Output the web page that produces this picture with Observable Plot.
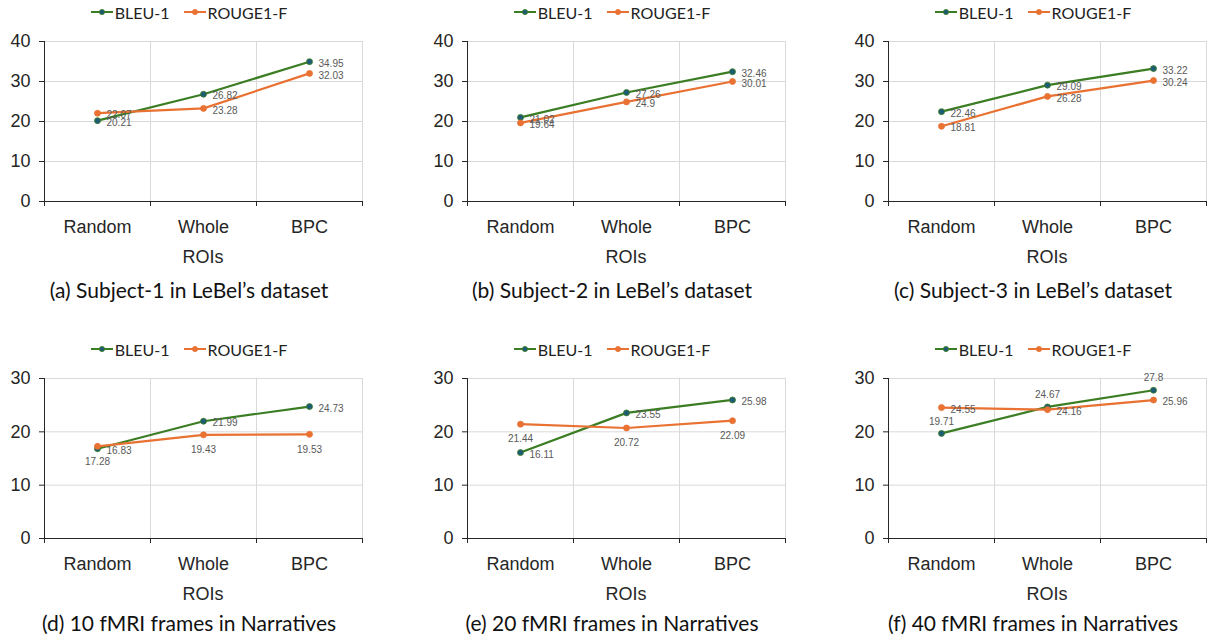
<!DOCTYPE html>
<html>
<head>
<meta charset="utf-8">
<script src="https://cdn.jsdelivr.net/npm/d3@7"></script>
<script src="https://cdn.jsdelivr.net/npm/@observablehq/plot@0.6"></script>
<style>
  html, body { margin: 0; padding: 0; background: #fff; }
  body { width: 1210px; height: 641px; position: relative; overflow: hidden; }
  .panel { position: absolute; width: 400px; height: 320px; }
  .panel svg { position: absolute; left: 0; top: 25px; overflow: visible; }
  .legend { position: absolute; left: 0; width: 378px; top: 0; height: 24px; display: flex; justify-content: center; align-items: center; gap: 14px; font-family: Lato, "Open Sans", sans-serif; font-size: 16px; color: #222; }
  .legend .item { display: flex; align-items: center; gap: 2px; }
  .axlabel { position: absolute; left: 44px; width: 318px; top: 246px; height: 22px; line-height: 22px; text-align: center; font-family: "Liberation Sans", Arial, sans-serif; font-size: 18px; color: #262626; }
  .caption { position: absolute; left: 0; width: 378px; height: 26px; line-height: 26px; text-align: center; font-family: Lato, "Open Sans", sans-serif; font-size: 21px; color: #111; white-space: nowrap; }
</style>
</head>
<body>
<script>
// ---- data ----
const rois = ["Random", "Whole", "BPC"];
const series = ["BLEU-1", "ROUGE1-F"];
const captions = [
  "(a) Subject-1 in LeBel’s dataset",
  "(b) Subject-2 in LeBel’s dataset",
  "(c) Subject-3 in LeBel’s dataset",
  "(d) 10 fMRI frames in Narratives",
  "(e) 20 fMRI frames in Narratives",
  "(f) 40 fMRI frames in Narratives"
];
const bleu1 = [
  [20.21, 26.82, 34.95],
  [21.02, 27.26, 32.46],
  [22.46, 29.09, 33.22],
  [16.83, 21.99, 24.73],
  [16.11, 23.55, 25.98],
  [19.71, 24.67, 27.8]
];
const rouge1F = [
  [22.07, 23.28, 32.03],
  [19.64, 24.9, 30.01],
  [18.81, 26.28, 30.24],
  [17.28, 19.43, 19.53],
  [21.44, 20.72, 22.09],
  [24.55, 24.16, 25.96]
];
const yMax = [40, 40, 40, 30, 30, 30];
// data label placement: r = right, b = below, t = above
const bleuLabelAt = [["r","r","r"],["r","r","r"],["r","r","r"],["r","r","r"],["r","r","r"],["t","t","t"]];
const rougeLabelAt = [["r","r","r"],["r","r","r"],["r","r","r"],["b","b","b"],["b","b","b"],["r","r","r"]];

// ---- style ----
const lineColor = {"BLEU-1": "#3b7d23", "ROUGE1-F": "#e97132"};
const dotColor = {"BLEU-1": "#1d5c74", "ROUGE1-F": "#e97132"};
const colLeft = [0, 423, 844];
const rowTop = [0, 337];
const captionTop = [277, 273];

function legendItem(name) {
  const it = document.createElement("div");
  it.className = "item";
  it.innerHTML = `<svg width="22" height="8" style="position:static"><line x1="0" x2="22" y1="4" y2="4" stroke="${lineColor[name]}" stroke-width="2"/><circle cx="11" cy="4" r="2.6" fill="${dotColor[name]}" stroke="${lineColor[name]}" stroke-width="0.8"/></svg><span>${name}</span>`;
  return it;
}

captions.forEach((cap, p) => {
  const col = p % 3, row = Math.floor(p / 3);
  const panel = document.createElement("div");
  panel.className = "panel";
  panel.style.left = colLeft[col] + "px";
  panel.style.top = rowTop[row] + "px";

  const legend = document.createElement("div");
  legend.className = "legend";
  series.forEach(s => legend.appendChild(legendItem(s)));
  panel.appendChild(legend);

  const rows = [];
  rois.forEach((r, i) => {
    rows.push({s: series[0], i, roi: r, v: bleu1[p][i], at: bleuLabelAt[p][i]});
    rows.push({s: series[1], i, roi: r, v: rouge1F[p][i], at: rougeLabelAt[p][i]});
  });
  const ticksY = d3.range(0, yMax[p] + 1, 10);
  const xPos = d => d.i + 0.5;

  const marks = [
    Plot.ruleY(ticksY.slice(1), {stroke: "#d9d9d9", strokeWidth: 1}),
    Plot.ruleX(d3.range(1, rois.length + 1), {stroke: "#d9d9d9", strokeWidth: 1}),
    Plot.ruleX([0], {stroke: "#262626", strokeWidth: 1}),
    Plot.ruleY([0], {stroke: "#262626", strokeWidth: 1}),
    Plot.axisY({ticks: ticksY, tickSize: 5, tickPadding: 9, label: null, fontSize: 18}),
    Plot.axisX({ticks: d3.range(0, rois.length + 1), tickSize: 5, tickFormat: () => "", label: null}),
    Plot.axisX({ticks: rois.map((d, i) => i + 0.5), tickSize: 0, tickPadding: 19, tickFormat: t => rois[Math.floor(t)], label: null, fontSize: 18})
  ];
  series.forEach(s => {
    const d = rows.filter(r => r.s === s);
    marks.push(Plot.line(d, {x: xPos, y: "v", stroke: lineColor[s], strokeWidth: 2.2}));
  });
  series.forEach(s => {
    const d = rows.filter(r => r.s === s);
    marks.push(Plot.dot(d, {x: xPos, y: "v", r: 3, fill: dotColor[s], stroke: lineColor[s], strokeWidth: 0.8}));
  });
  const lab = {fill: "#595959", fontSize: 10, fontFamily: "'Liberation Sans', Arial, sans-serif", text: d => String(d.v)};
  marks.push(Plot.text(rows.filter(d => d.at === "r"), {...lab, x: xPos, y: "v", textAnchor: "start", dx: 9, dy: 2}));
  marks.push(Plot.text(rows.filter(d => d.at === "b"), {...lab, x: xPos, y: "v", textAnchor: "middle", dy: 15}));
  marks.push(Plot.text(rows.filter(d => d.at === "t"), {...lab, x: xPos, y: "v", textAnchor: "middle", dy: -12}));

  const svg = Plot.plot({
    width: 380, height: 210,
    marginLeft: 44, marginRight: 18, marginTop: 16, marginBottom: 34,
    style: {fontFamily: "'Liberation Sans', Arial, sans-serif", fontSize: "18px", color: "#262626", background: "transparent"},
    x: {type: "linear", domain: [0, rois.length]},
    y: {domain: [0, yMax[p]]},
    marks
  });
  panel.appendChild(svg);

  const ax = document.createElement("div");
  ax.className = "axlabel";
  ax.textContent = "ROIs";
  panel.appendChild(ax);

  const c = document.createElement("div");
  c.className = "caption";
  c.style.top = captionTop[row] + "px";
  c.textContent = cap;
  panel.appendChild(c);

  document.body.appendChild(panel);
});
</script>
</body>
</html>
